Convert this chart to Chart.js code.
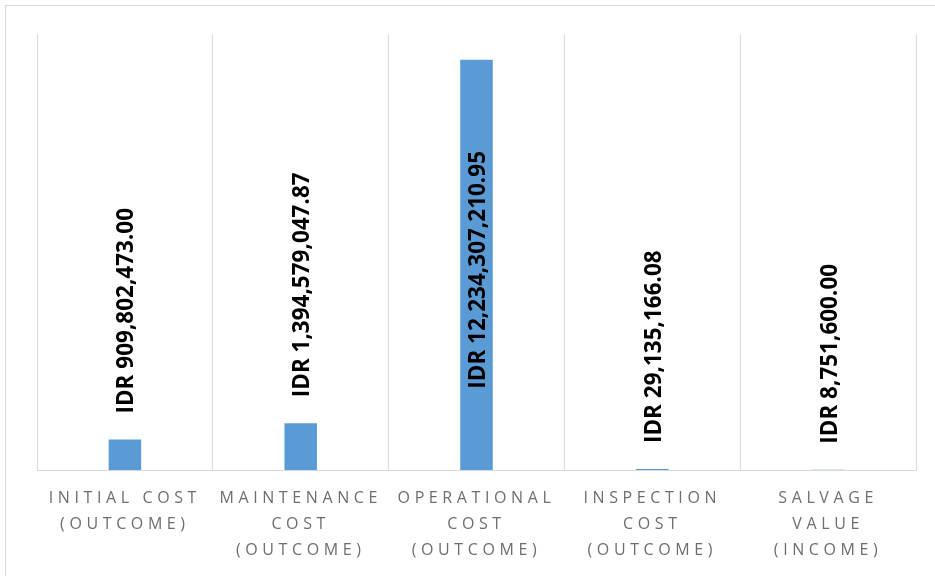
<!DOCTYPE html>
<html>
<head>
<meta charset="utf-8">
<script src="https://cdn.jsdelivr.net/npm/chart.js@4/dist/chart.umd.min.js"></script>
<style>
  html, body { margin: 0; padding: 0; background: #fff; }
  #wrap { position: relative; width: 935px; height: 576px; overflow: hidden; }
  #frame { position: absolute; left: 5px; top: 5px; width: 940px; height: 580px;
           border-top: 1px solid #d9d9d9; border-left: 1px solid #d9d9d9; box-sizing: border-box; }
  canvas { position: absolute; left: 0; top: 0; }
</style>
</head>
<body>
<div id="wrap">
  <div id="frame"></div>
  <canvas id="c" width="935" height="576"></canvas>
</div>
<script>
const categories = [
  ["INITIAL COST", "(OUTCOME)"],
  ["MAINTENANCE", "COST", "(OUTCOME)"],
  ["OPERATIONAL", "COST", "(OUTCOME)"],
  ["INSPECTION", "COST", "(OUTCOME)"],
  ["SALVAGE", "VALUE", "(INCOME)"]
];
const values = [909802473.00, 1394579047.87, 12234307210.95, 29135166.08, 8751600.00];
const valueLabels = values.map(v => "IDR " + v.toLocaleString("en-US", { minimumFractionDigits: 2, maximumFractionDigits: 2 }));

const LETTER_SPACING = "4.6px";

const spacingPlugin = {
  id: "spacing",
  beforeDraw(chart) { chart.ctx.letterSpacing = LETTER_SPACING; },
  afterDraw(chart) { chart.ctx.letterSpacing = "0px"; }
};

const valueLabelPlugin = {
  id: "valueLabels",
  afterDatasetsDraw(chart) {
    const ctx = chart.ctx;
    const meta = chart.getDatasetMeta(0);
    const area = chart.chartArea;
    ctx.save();
    ctx.letterSpacing = "0px";
    ctx.font = "bold 22.5px 'Open Sans'";
    ctx.fillStyle = "#000";
    ctx.textBaseline = "middle";
    meta.data.forEach((bar, i) => {
      const text = valueLabels[i];
      const w = ctx.measureText(text).width;
      const gap = 26;
      let cy;
      if (bar.y - gap - w >= area.top) {
        cy = bar.y - gap - w / 2;
      } else {
        cy = (bar.y + bar.base) / 2 + 5;
      }
      ctx.save();
      ctx.translate(bar.x + 2, cy);
      ctx.rotate(-Math.PI / 2);
      ctx.textAlign = "center";
      ctx.fillText(text, 0, 0);
      ctx.restore();
    });
    ctx.restore();
  }
};

new Chart(document.getElementById("c"), {
  type: "bar",
  data: {
    labels: categories,
    datasets: [{
      data: values,
      backgroundColor: "#5B9BD5",
      borderWidth: 0,
      barPercentage: 0.185,
      categoryPercentage: 1.0
    }]
  },
  options: {
    responsive: false,
    animation: false,
    devicePixelRatio: 1,
    layout: { padding: { left: 37, right: 19, top: 34, bottom: 0 } },
    plugins: { legend: { display: false }, tooltip: { enabled: false } },
    scales: {
      x: {
        offset: true,
        grid: { display: true, offset: true, color: "#d9d9d9", lineWidth: 1, drawTicks: false },
        border: { display: true, color: "#d9d9d9", width: 1 },
        ticks: {
          color: "#6e6e6e",
          font: { family: "'Open Sans'", size: 16, lineHeight: 26 / 16 },
          padding: 15,
          maxRotation: 0,
          minRotation: 0,
          autoSkip: false
        },
        afterFit(scale) { scale.height = 106; }
      },
      y: {
        display: false,
        min: 0,
        max: 13000000000
      }
    }
  },
  plugins: [spacingPlugin, valueLabelPlugin]
});
</script>
</body>
</html>
